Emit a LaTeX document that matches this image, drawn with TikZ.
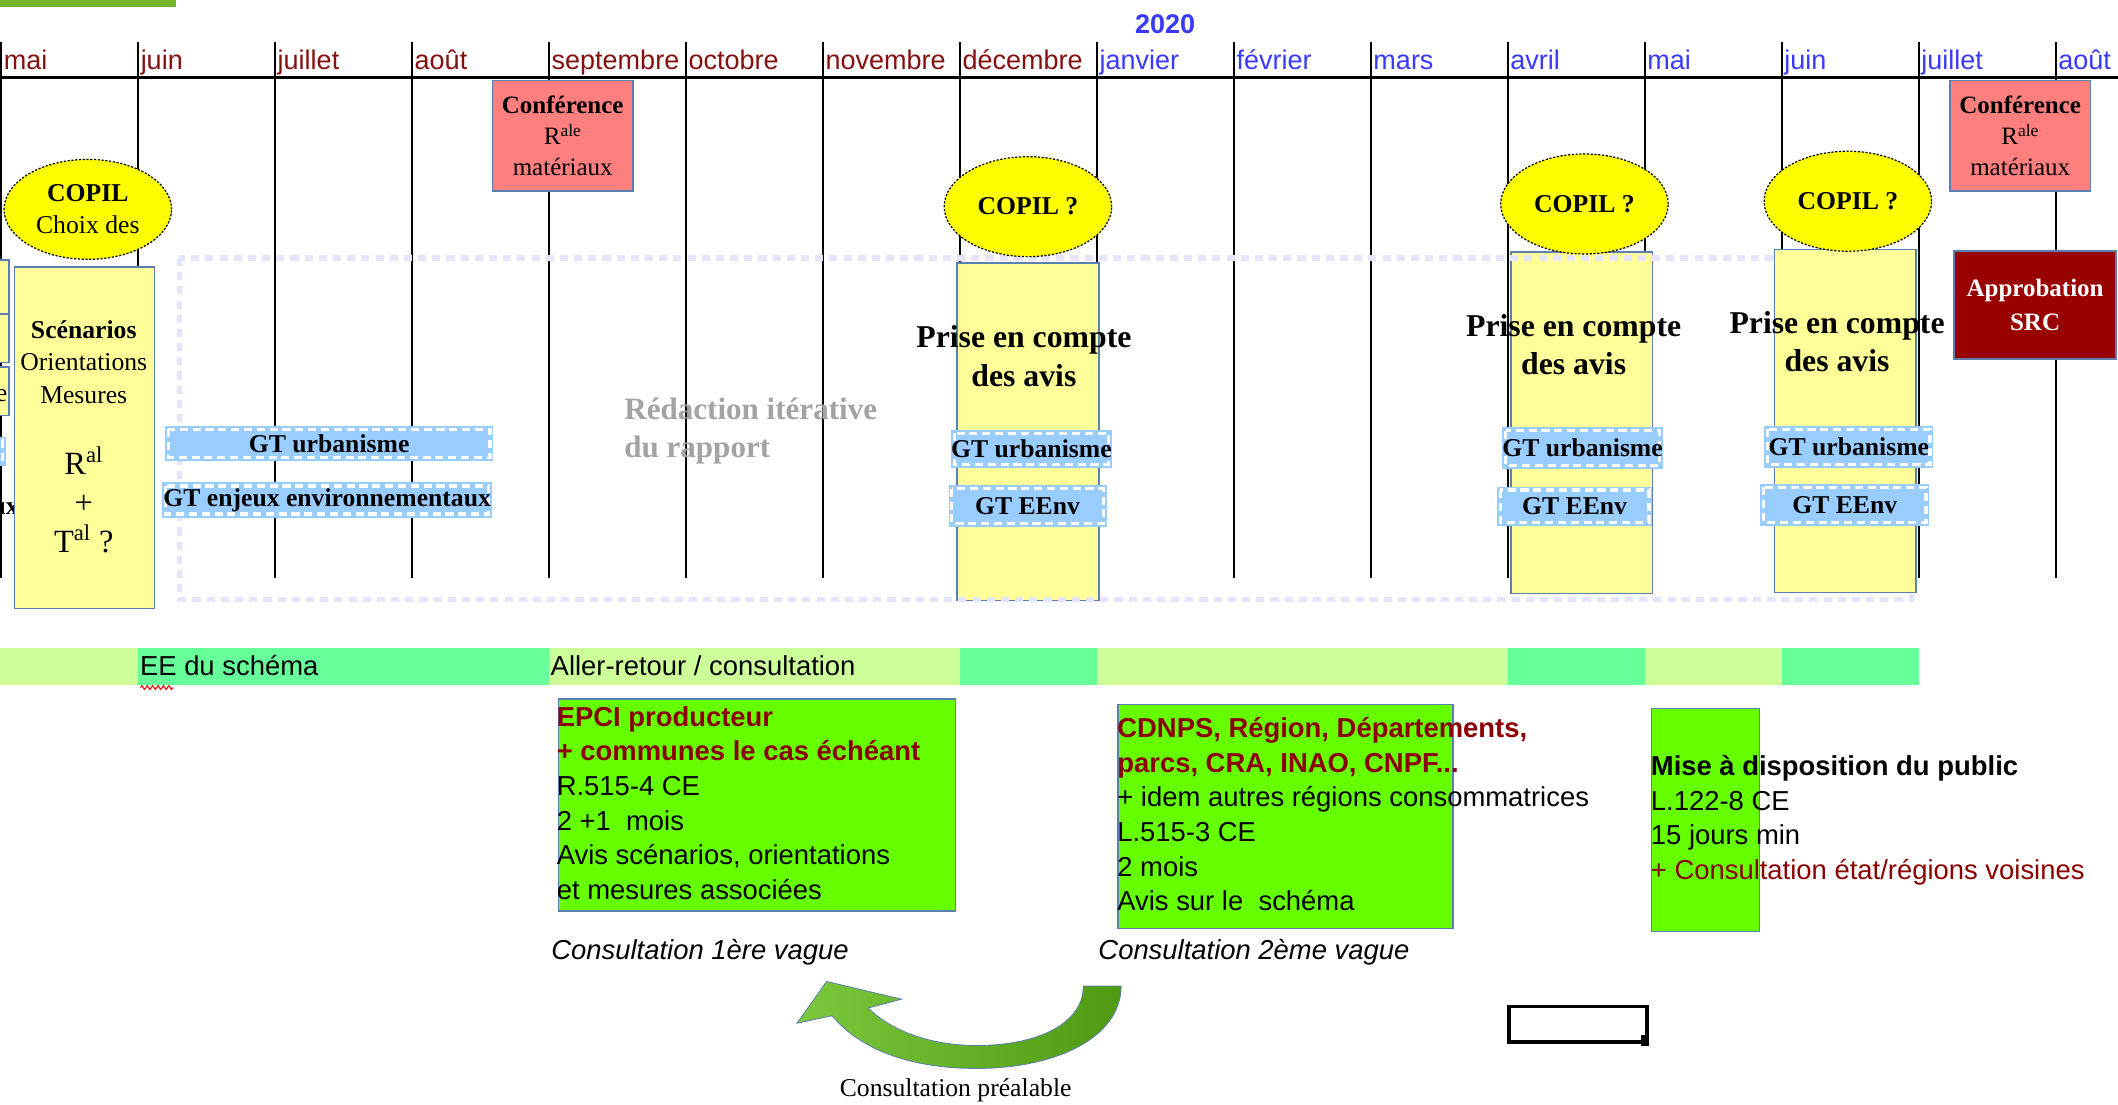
\documentclass[tikz,border=0pt]{standalone}
\usepackage{fontspec}
\setmainfont{Liberation Sans}
\newfontfamily\serifF{Liberation Serif}
\usetikzlibrary{shapes.geometric,decorations.pathmorphing}

\definecolor{mred}{HTML}{851010}
\definecolor{mblue}{HTML}{3A3AFF}
\definecolor{copilyellow}{HTML}{FFFF00}
\definecolor{paleyellow}{HTML}{FFFF99}
\definecolor{boxborder}{HTML}{5B7FB0}
\definecolor{salmon}{HTML}{FF7F7F}
\definecolor{darkred}{HTML}{990000}
\definecolor{gtblue}{HTML}{99CCFF}
\definecolor{lav}{HTML}{E4E4FA}
\definecolor{bandlight}{HTML}{CCFF99}
\definecolor{bandmint}{HTML}{66FF99}
\definecolor{vgreen}{HTML}{66FF00}
\definecolor{txtred}{HTML}{8B0000}
\definecolor{topgreen}{HTML}{77B52A}
\definecolor{graytxt}{HTML}{A3A3A3}
\definecolor{arrowL}{HTML}{7CC83C}
\definecolor{arrowR}{HTML}{4F9A10}

\newcommand{\boxnode}[7]{\node[#1,anchor=north west,inner sep=0pt,minimum width={(#5)-(#3)},minimum height={(#6)-(#4)}] (#2) at (#3,#4) {#7};}

\begin{document}
\begin{tikzpicture}[x=1pt,y=-1pt,
  monthlbl/.style={font=\fontsize{20}{24}\selectfont,inner sep=0pt,anchor=base west},
  vline/.style={black,line width=1.4pt},
  conf/.style={draw=boxborder,line width=1.2pt,fill=salmon,align=center,font=\serifF\fontsize{18.5}{23}\selectfont},
  approb/.style={draw=boxborder,line width=1.2pt,fill=darkred,text=white,align=center,font=\serifF\bfseries\fontsize{18.5}{25}\selectfont},
  ybox/.style={draw=boxborder,line width=1.1pt,fill=paleyellow},
  copil/.style={ellipse,fill=copilyellow,draw=black,line width=0.9pt,dash pattern=on 1.6pt off 1.2pt,minimum width=124pt,minimum height=74pt,inner sep=0pt,align=center,font=\serifF\bfseries\fontsize{19}{23.7}\selectfont},
  gtbox/.style={fill=gtblue,font=\serifF\bfseries\fontsize{19}{19}\selectfont,
    path picture={\draw[white,line width=2.4pt,dash pattern=on 6pt off 3.5pt]
      ([xshift=2.4pt,yshift=-2.6pt]path picture bounding box.north west) rectangle
      ([xshift=-2.4pt,yshift=2.6pt]path picture bounding box.south east);}},
  prise/.style={align=center,inner sep=0pt,font=\serifF\bfseries\fontsize{23.5}{28.5}\selectfont},
  vbox/.style={draw=boxborder,line width=1.1pt,fill=vgreen},
  boxtxt/.style={anchor=north west,inner sep=0pt,align=left,font=\fontsize{20.3}{25.7}\selectfont},
  captxt/.style={anchor=base west,inner sep=0pt,font=\itshape\fontsize{20.3}{24}\selectfont},
  bandtxt/.style={anchor=base west,inner sep=0pt,font=\fontsize{20.3}{24}\selectfont},
  lavdash/.style={draw=lav,line width=4pt,dash pattern=on 6pt off 4.5pt}
]
\useasboundingbox[fill=white] (0,0) rectangle (1568,818);

% top green bar
\fill[topgreen] (0,0) rectangle (130,5.4);

% year
\node[anchor=base,inner sep=0pt,text=mblue,font=\bfseries\fontsize{20}{24}\selectfont] (year) at (862.5,24.7) {2020};

% month grid
\foreach \i/\m/\c in {0/mai/mred,1/juin/mred,2/juillet/mred,3/août/mred,4/septembre/mred,5/octobre/mred,6/novembre/mred,7/décembre/mred,8/janvier/mblue,9/février/mblue,10/mars/mblue,11/avril/mblue,12/mai/mblue,13/juin/mblue,14/juillet/mblue,15/août/mblue}{
  \draw[vline] ({1+101.4*\i},31) -- ({1+101.4*\i},428);
  \node[monthlbl,text=\c] (m\i) at ({2.6+101.4*\i},51.3) {\m};
}
\draw[black,line width=1.8pt] (0,57.5) -- (1568,57.5);

% band
\fill[bandlight] (0,480) rectangle (102.4,507);
\fill[bandmint] (102.4,480) rectangle (406.6,507);
\fill[bandlight] (406.6,480) rectangle (710.8,507);
\fill[bandmint] (710.8,480) rectangle (812.2,507);
\fill[bandlight] (812.2,480) rectangle (1116.4,507);
\fill[bandmint] (1116.4,480) rectangle (1217.8,507);
\fill[bandlight] (1217.8,480) rectangle (1319.2,507);
\fill[bandmint] (1319.2,480) rectangle (1420.6,507);
\node[bandtxt] (ee) at (103.5,500.4) {EE du schéma};
\draw[red,line width=0.8pt,decorate,decoration={zigzag,amplitude=1.4pt,segment length=4pt}] (104,509) -- (128,509);
\node[bandtxt] (ar) at (407.5,500.4) {Aller-retour / consultation};

% conferences and approbation
\boxnode{conf}{conf1}{364}{59}{468}{141}{\textbf{Conférence}\\R\textsuperscript{ale}\\matériaux}
\boxnode{conf}{conf2}{1443}{59}{1547}{141}{\textbf{Conférence}\\R\textsuperscript{ale}\\matériaux}
\boxnode{approb}{appr}{1446}{185}{1566}{265}{Approbation\\SRC}

% cut-off elements on the left edge
\begin{scope}
\clip (0,0) rectangle (1568,818);
\boxnode{ybox}{lp1}{-20}{192}{6}{235}{}
\boxnode{ybox}{lp2}{-20}{232}{6}{268}{}
\boxnode{ybox}{lp3}{-20}{271}{6}{307}{}
\node[anchor=base east,inner sep=0pt,font=\serifF\fontsize{19}{19}\selectfont] (lpe) at (5.5,297) {e};
\boxnode{gtbox}{lpg}{-30}{323}{4}{345}{}
\node[anchor=base east,inner sep=0pt,font=\serifF\bfseries\fontsize{19}{19}\selectfont] (lpu) at (14,381) {aux};
\end{scope}

% yellow boxes
\boxnode{ybox}{sc}{10}{197}{114}{450}{}
\boxnode{ybox}{pdec}{708}{194}{813}{444}{}
\boxnode{ybox}{pavr}{1118}{186}{1223}{439}{}
\draw[lavdash] (133,191) rectangle (1415,444);
\boxnode{ybox}{pjun}{1313}{184}{1418}{438}{}

% COPIL ellipses
\node[copil] (c1) at (65,155) {COPIL\\{\mdseries Choix des}};
\node[copil] (c2) at (761,153) {COPIL ?};
\node[copil] (c3) at (1173,151) {COPIL ?};
\node[copil] (c4) at (1368,149) {COPIL ?};

% GT boxes
\boxnode{gtbox}{g1}{122}{315}{365}{341}{GT urbanisme}
\boxnode{gtbox}{g2}{120}{357}{364}{383}{GT enjeux environnementaux}
\boxnode{gtbox}{g3}{704}{318}{822}{346}{GT urbanisme}
\boxnode{gtbox}{g4}{702}{359}{819}{390}{GT EEnv}
\boxnode{gtbox}{g5}{1112}{316}{1226}{347}{GT urbanisme}
\boxnode{gtbox}{g6}{1108}{360}{1223}{389}{GT EEnv}
\boxnode{gtbox}{g7}{1306}{315}{1431}{346}{GT urbanisme}
\boxnode{gtbox}{g8}{1303}{358}{1428}{389}{GT EEnv}

% texts in yellow boxes
\node[align=center,inner sep=0pt,font=\serifF\fontsize{19}{24}\selectfont] (sct) at (62,268) {\textbf{Scénarios}\\Orientations\\Mesures};
\node[align=center,inner sep=0pt,font=\serifF\fontsize{24}{29}\selectfont] (scr) at (62,370) {R\textsuperscript{al}\\+\\T\textsuperscript{al} ?};
\node[prise] (t1) at (758,263.5) {Prise en compte\\des avis};
\node[prise] (t2) at (1165,255) {Prise en compte\\des avis};
\node[prise] (t3) at (1360,253) {Prise en compte\\des avis};
\node[anchor=west,align=left,inner sep=0pt,text=graytxt,font=\serifF\bfseries\fontsize{23}{28.5}\selectfont] (red) at (462,319) {Rédaction itérative\\du rapport};

% green consultation boxes
\boxnode{vbox}{v1}{413}{517}{707}{674}{}
\boxnode{vbox}{v2}{827}{521}{1075}{687}{}
\boxnode{vbox}{v3}{1222}{524}{1302}{689}{}
\node[boxtxt] (v1t) at (412,522.6) {{\bfseries\color{txtred}EPCI producteur}\\{\bfseries\color{txtred}+ communes le cas échéant}\\R.515-4 CE\\2 +1\ \ mois\\Avis scénarios, orientations\\et mesures associées};
\node[boxtxt] (v2t) at (827,530.8) {{\bfseries\color{txtred}CDNPS, Région, Départements,}\\{\bfseries\color{txtred}parcs, CRA, INAO, CNPF...}\\+ idem autres régions consommatrices\\L.515-3 CE\\2 mois\\Avis sur le\ \ schéma};
\node[boxtxt] (v3t) at (1222,558.9) {{\bfseries Mise à disposition du public}\\L.122-8 CE\\15 jours min\\{\color{txtred}+ Consultation état/régions voisines}};
\node[captxt] (cap1) at (408,710.6) {Consultation 1ère vague};
\node[captxt] (cap2) at (813,710.6) {Consultation 2ème vague};

% curved arrow
\shade[left color=arrowL,right color=arrowR,draw=boxborder,line width=0.6pt]
  (830,730) .. controls (830,768) and (782,791) .. (723,791)
  .. controls (672,791) and (636,776) .. (616,752)
  -- (590,757.5) -- (612,726.6) -- (667.4,739.7) -- (642.7,746.3)
  .. controls (662,765) and (692,774) .. (723,774)
  .. controls (768,774) and (802,758) .. (802,730) -- cycle;
\node[anchor=base,inner sep=0pt,font=\serifF\fontsize{19}{19}\selectfont] (pre) at (707.5,812) {Consultation préalable};

% small empty rectangle
\boxnode{draw=black,line width=2.6pt}{rect}{1116}{744}{1218}{770}{}
\fill[black] (1214.5,766.5) rectangle (1221,774);
\end{tikzpicture}
\end{document}
